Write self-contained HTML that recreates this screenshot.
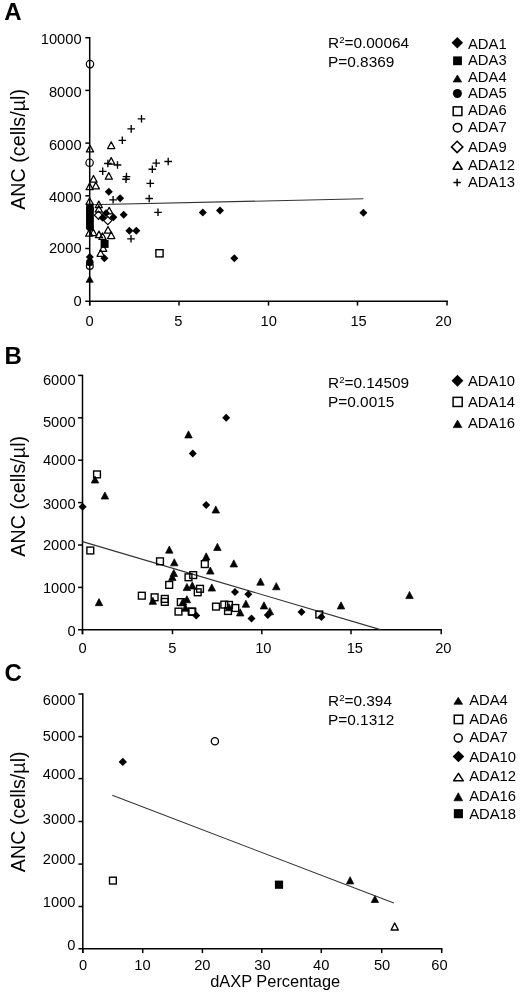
<!DOCTYPE html>
<html><head><meta charset="utf-8"><title>ANC vs dAXP</title>
<style>
html,body{margin:0;padding:0;background:#fff;}
body{width:520px;height:993px;overflow:hidden;}
svg{display:block;filter:grayscale(1);font-family:"Liberation Sans", sans-serif;fill:#000;}
</style></head>
<body>
<svg width="520" height="993" viewBox="0 0 520 993">
<rect width="520" height="993" fill="#fff"/>
<g fill="#000">
<text x="4.2" y="19.8" font-size="24" text-anchor="start" font-weight="bold" >A</text>
<text x="0" y="0" font-size="19.7" text-anchor="middle" transform="translate(24.6 149.4) rotate(-90)">ANC (cells/µl)</text>
<line x1="89.7" y1="36.95" x2="89.7" y2="305.6" stroke="#000" stroke-width="1.5"/>
<line x1="85.3" y1="301.2" x2="447.95" y2="301.2" stroke="#000" stroke-width="1.5"/>
<line x1="85.3" y1="37.7" x2="89.7" y2="37.7" stroke="#000" stroke-width="1.5"/>
<line x1="85.3" y1="90.4" x2="89.7" y2="90.4" stroke="#000" stroke-width="1.5"/>
<line x1="85.3" y1="143.1" x2="89.7" y2="143.1" stroke="#000" stroke-width="1.5"/>
<line x1="85.3" y1="195.8" x2="89.7" y2="195.8" stroke="#000" stroke-width="1.5"/>
<line x1="85.3" y1="248.5" x2="89.7" y2="248.5" stroke="#000" stroke-width="1.5"/>
<line x1="89.7" y1="301.2" x2="89.7" y2="305.6" stroke="#000" stroke-width="1.5"/>
<line x1="179" y1="301.2" x2="179" y2="305.6" stroke="#000" stroke-width="1.5"/>
<line x1="268.5" y1="301.2" x2="268.5" y2="305.6" stroke="#000" stroke-width="1.5"/>
<line x1="357.5" y1="301.2" x2="357.5" y2="305.6" stroke="#000" stroke-width="1.5"/>
<line x1="447" y1="301.2" x2="447" y2="305.6" stroke="#000" stroke-width="1.5"/>
<text x="81.6" y="44.16" font-size="14.7" text-anchor="end" font-weight="normal" >10000</text>
<text x="81.6" y="97.16" font-size="14.7" text-anchor="end" font-weight="normal" >8000</text>
<text x="81.6" y="149.86" font-size="14.7" text-anchor="end" font-weight="normal" >6000</text>
<text x="81.6" y="202.06" font-size="14.7" text-anchor="end" font-weight="normal" >4000</text>
<text x="81.6" y="253.36" font-size="14.7" text-anchor="end" font-weight="normal" >2000</text>
<text x="81.6" y="306.16" font-size="14.7" text-anchor="end" font-weight="normal" >0</text>
<text x="89.6" y="325.86" font-size="14.7" text-anchor="middle" font-weight="normal" >0</text>
<text x="178.4" y="325.86" font-size="14.7" text-anchor="middle" font-weight="normal" >5</text>
<text x="268.7" y="325.86" font-size="14.7" text-anchor="middle" font-weight="normal" >10</text>
<text x="358.6" y="325.86" font-size="14.7" text-anchor="middle" font-weight="normal" >15</text>
<text x="443.5" y="325.86" font-size="14.7" text-anchor="middle" font-weight="normal" >20</text>
<line x1="89.7" y1="204.8" x2="363.4" y2="198.8" stroke="#333" stroke-width="1.1"/>
<rect x="86.2" y="203.8" width="7.4" height="7.4" fill="#000"/>
<rect x="86.2" y="207.3" width="7.4" height="7.4" fill="#000"/>
<rect x="86.2" y="210.8" width="7.4" height="7.4" fill="#000"/>
<rect x="86.2" y="214.3" width="7.4" height="7.4" fill="#000"/>
<rect x="86.2" y="217.8" width="7.4" height="7.4" fill="#000"/>
<rect x="86.2" y="221.3" width="7.4" height="7.4" fill="#000"/>
<circle cx="89.9" cy="227" r="3.9" fill="#000"/>
<circle cx="89.9" cy="209" r="3.9" fill="#000"/>
<path d="M90 145.3L93.6 151.9L86.4 151.9Z" fill="none" stroke="#000" stroke-width="1.25" stroke-linejoin="round"/>
<path d="M111.2 141.9L114.8 148.5L107.6 148.5Z" fill="none" stroke="#000" stroke-width="1.25" stroke-linejoin="round"/>
<path d="M111.2 157.6L114.8 164.2L107.6 164.2Z" fill="none" stroke="#000" stroke-width="1.25" stroke-linejoin="round"/>
<path d="M108.8 172.6L112.4 179.2L105.2 179.2Z" fill="none" stroke="#000" stroke-width="1.25" stroke-linejoin="round"/>
<path d="M93.5 175.5L97.1 182.1L89.9 182.1Z" fill="none" stroke="#000" stroke-width="1.25" stroke-linejoin="round"/>
<path d="M95.8 182.3L99.4 188.9L92.2 188.9Z" fill="none" stroke="#000" stroke-width="1.25" stroke-linejoin="round"/>
<path d="M89.6 183.1L93.2 189.7L86 189.7Z" fill="none" stroke="#000" stroke-width="1.25" stroke-linejoin="round"/>
<path d="M89.6 197.7L93.2 204.3L86 204.3Z" fill="none" stroke="#000" stroke-width="1.25" stroke-linejoin="round"/>
<path d="M98.8 201.1L102.4 207.7L95.2 207.7Z" fill="none" stroke="#000" stroke-width="1.25" stroke-linejoin="round"/>
<path d="M98.8 205.5L102.4 212.1L95.2 212.1Z" fill="none" stroke="#000" stroke-width="1.25" stroke-linejoin="round"/>
<path d="M109.2 207.3L112.8 213.9L105.6 213.9Z" fill="none" stroke="#000" stroke-width="1.25" stroke-linejoin="round"/>
<path d="M108 226.5L111.6 233.1L104.4 233.1Z" fill="none" stroke="#000" stroke-width="1.25" stroke-linejoin="round"/>
<path d="M111.2 231.9L114.8 238.5L107.6 238.5Z" fill="none" stroke="#000" stroke-width="1.25" stroke-linejoin="round"/>
<path d="M89.2 229.6L92.8 236.2L85.6 236.2Z" fill="none" stroke="#000" stroke-width="1.25" stroke-linejoin="round"/>
<path d="M93.3 229.1L96.9 235.7L89.7 235.7Z" fill="none" stroke="#000" stroke-width="1.25" stroke-linejoin="round"/>
<path d="M99 231.1L102.6 237.7L95.4 237.7Z" fill="none" stroke="#000" stroke-width="1.25" stroke-linejoin="round"/>
<path d="M102.5 232.8L106.1 239.4L98.9 239.4Z" fill="none" stroke="#000" stroke-width="1.25" stroke-linejoin="round"/>
<path d="M103.2 244.7L106.8 251.3L99.6 251.3Z" fill="none" stroke="#000" stroke-width="1.25" stroke-linejoin="round"/>
<path d="M100.6 249.7L104.2 256.3L97 256.3Z" fill="none" stroke="#000" stroke-width="1.25" stroke-linejoin="round"/>
<path d="M137.7 118.8H145.3M141.5 115V122.6" stroke="#000" stroke-width="1.35" fill="none"/>
<path d="M127.4 128.9H135M131.2 125.1V132.7" stroke="#000" stroke-width="1.35" fill="none"/>
<path d="M118.5 140.3H126.1M122.3 136.5V144.1" stroke="#000" stroke-width="1.35" fill="none"/>
<path d="M152.4 163.1H160M156.2 159.3V166.9" stroke="#000" stroke-width="1.35" fill="none"/>
<path d="M164.4 161.5H172M168.2 157.7V165.3" stroke="#000" stroke-width="1.35" fill="none"/>
<path d="M148.5 169.2H156.1M152.3 165.4V173" stroke="#000" stroke-width="1.35" fill="none"/>
<path d="M104.1 163.5H111.7M107.9 159.7V167.3" stroke="#000" stroke-width="1.35" fill="none"/>
<path d="M113.7 165H121.3M117.5 161.2V168.8" stroke="#000" stroke-width="1.35" fill="none"/>
<path d="M98.9 171.3H106.5M102.7 167.5V175.1" stroke="#000" stroke-width="1.35" fill="none"/>
<path d="M122.7 176.6H130.3M126.5 172.8V180.4" stroke="#000" stroke-width="1.35" fill="none"/>
<path d="M122.2 179.2H129.8M126 175.4V183" stroke="#000" stroke-width="1.35" fill="none"/>
<path d="M146.5 183.4H154.1M150.3 179.6V187.2" stroke="#000" stroke-width="1.35" fill="none"/>
<path d="M145.4 198.5H153M149.2 194.7V202.3" stroke="#000" stroke-width="1.35" fill="none"/>
<path d="M109.3 199.8H116.9M113.1 196V203.6" stroke="#000" stroke-width="1.35" fill="none"/>
<path d="M154.2 212.3H161.8M158 208.5V216.1" stroke="#000" stroke-width="1.35" fill="none"/>
<path d="M127.2 238.8H134.8M131 235V242.6" stroke="#000" stroke-width="1.35" fill="none"/>
<path d="M98.5 211.1L102.6 215.2L98.5 219.3L94.4 215.2Z" fill="none" stroke="#000" stroke-width="1.2"/>
<path d="M107.8 216.5L111.9 220.6L107.8 224.7L103.7 220.6Z" fill="none" stroke="#000" stroke-width="1.2"/>
<path d="M108.8 187.7L112.8 191.7L108.8 195.7L104.8 191.7Z" fill="#000"/>
<path d="M120.1 194.3L124.1 198.3L120.1 202.3L116.1 198.3Z" fill="#000"/>
<path d="M123.7 210.8L127.7 214.8L123.7 218.8L119.7 214.8Z" fill="#000"/>
<path d="M106 209.3L110 213.3L106 217.3L102 213.3Z" fill="#000"/>
<path d="M102.5 213.8L106.5 217.8L102.5 221.8L98.5 217.8Z" fill="#000"/>
<path d="M113.4 213.3L117.4 217.3L113.4 221.3L109.4 217.3Z" fill="#000"/>
<path d="M129.4 226.8L133.4 230.8L129.4 234.8L125.4 230.8Z" fill="#000"/>
<path d="M136.3 226.8L140.3 230.8L136.3 234.8L132.3 230.8Z" fill="#000"/>
<path d="M104.4 254.2L108.4 258.2L104.4 262.2L100.4 258.2Z" fill="#000"/>
<path d="M202.8 208.5L206.8 212.5L202.8 216.5L198.8 212.5Z" fill="#000"/>
<path d="M220 206.4L224 210.4L220 214.4L216 210.4Z" fill="#000"/>
<path d="M234.3 254.3L238.3 258.3L234.3 262.3L230.3 258.3Z" fill="#000"/>
<path d="M363.4 208.8L367.4 212.8L363.4 216.8L359.4 212.8Z" fill="#000"/>
<path d="M89.8 253L93.8 257L89.8 261L85.8 257Z" fill="#000"/>
<rect x="100.6" y="239.9" width="8" height="8" fill="#000"/>
<circle cx="89.8" cy="262.4" r="3.8" fill="#000"/>
<circle cx="90" cy="64.1" r="3.7" fill="none" stroke="#000" stroke-width="1.2"/>
<circle cx="89.6" cy="162.7" r="3.7" fill="none" stroke="#000" stroke-width="1.2"/>
<circle cx="89.8" cy="266" r="3.4" fill="none" stroke="#000" stroke-width="1.2"/>
<path d="M89.7 275.89L93.28 282.31L86.12 282.31Z" fill="#000" stroke="#000" stroke-width="0.7" stroke-linejoin="round"/>
<rect x="155.9" y="249.7" width="7.2" height="7.2" fill="none" stroke="#000" stroke-width="1.4"/>
<text x="328.0" y="47.9" font-size="15.4">R<tspan font-size="9.6" dy="-4.6">2</tspan><tspan dy="4.6">=0.00064</tspan></text>
<text x="328" y="66.9" font-size="15.4" text-anchor="start" font-weight="normal" >P=0.8369</text>
<path d="M457.3 37.05L463.05 42.8L457.3 48.55L451.55 42.8Z" fill="#000"/>
<text x="468" y="48.5" font-size="14.8" text-anchor="start" font-weight="normal" >ADA1</text>
<rect x="453.1" y="56.4" width="8.8" height="8.8" fill="#000"/>
<text x="468" y="65" font-size="14.8" text-anchor="start" font-weight="normal" >ADA3</text>
<path d="M457.4 74.94L461.63 81.97L453.17 81.97Z" fill="#000" stroke="#000" stroke-width="0.7" stroke-linejoin="round"/>
<text x="468" y="82.3" font-size="14.8" text-anchor="start" font-weight="normal" >ADA4</text>
<circle cx="457.4" cy="93.45" r="4.5" fill="#000"/>
<text x="468" y="98.3" font-size="14.8" text-anchor="start" font-weight="normal" >ADA5</text>
<rect x="453.2" y="106.85" width="8.7" height="8.7" fill="none" stroke="#000" stroke-width="1.5"/>
<text x="468" y="114.9" font-size="14.8" text-anchor="start" font-weight="normal" >ADA6</text>
<circle cx="457.55" cy="127.65" r="4.25" fill="none" stroke="#000" stroke-width="1.5"/>
<text x="468" y="131.9" font-size="14.8" text-anchor="start" font-weight="normal" >ADA7</text>
<path d="M457.15 141.2L462.85 146.9L457.15 152.6L451.45 146.9Z" fill="none" stroke="#000" stroke-width="1.5"/>
<text x="468" y="151.5" font-size="14.8" text-anchor="start" font-weight="normal" >ADA9</text>
<path d="M457.65 161.55L462.2 169.25L453.1 169.25Z" fill="none" stroke="#000" stroke-width="1.5" stroke-linejoin="round"/>
<text x="468" y="170" font-size="14.8" text-anchor="start" font-weight="normal" >ADA12</text>
<path d="M453.45 182.5H460.85M457.15 178.8V186.2" stroke="#000" stroke-width="1.45" fill="none"/>
<text x="468" y="187" font-size="14.8" text-anchor="start" font-weight="normal" >ADA13</text>
<text x="4.6" y="363.6" font-size="24" text-anchor="start" font-weight="bold" >B</text>
<text x="0" y="0" font-size="19.7" text-anchor="middle" transform="translate(24.6 496.3) rotate(-90)">ANC (cells/µl)</text>
<line x1="82.5" y1="374.65" x2="82.5" y2="634.2" stroke="#000" stroke-width="1.5"/>
<line x1="78.1" y1="629.8" x2="441.95" y2="629.8" stroke="#000" stroke-width="1.5"/>
<line x1="78.1" y1="375.4" x2="82.5" y2="375.4" stroke="#000" stroke-width="1.5"/>
<line x1="78.1" y1="417.8" x2="82.5" y2="417.8" stroke="#000" stroke-width="1.5"/>
<line x1="78.1" y1="460.2" x2="82.5" y2="460.2" stroke="#000" stroke-width="1.5"/>
<line x1="78.1" y1="502.6" x2="82.5" y2="502.6" stroke="#000" stroke-width="1.5"/>
<line x1="78.1" y1="545" x2="82.5" y2="545" stroke="#000" stroke-width="1.5"/>
<line x1="78.1" y1="587.4" x2="82.5" y2="587.4" stroke="#000" stroke-width="1.5"/>
<line x1="82.5" y1="629.8" x2="82.5" y2="634.2" stroke="#000" stroke-width="1.5"/>
<line x1="172.5" y1="629.8" x2="172.5" y2="634.2" stroke="#000" stroke-width="1.5"/>
<line x1="261.8" y1="629.8" x2="261.8" y2="634.2" stroke="#000" stroke-width="1.5"/>
<line x1="351" y1="629.8" x2="351" y2="634.2" stroke="#000" stroke-width="1.5"/>
<line x1="441.2" y1="629.8" x2="441.2" y2="634.2" stroke="#000" stroke-width="1.5"/>
<text x="75.6" y="384.66" font-size="14.7" text-anchor="end" font-weight="normal" >6000</text>
<text x="75.6" y="427.06" font-size="14.7" text-anchor="end" font-weight="normal" >5000</text>
<text x="75.6" y="464.96" font-size="14.7" text-anchor="end" font-weight="normal" >4000</text>
<text x="75.6" y="509.26" font-size="14.7" text-anchor="end" font-weight="normal" >3000</text>
<text x="75.6" y="550.46" font-size="14.7" text-anchor="end" font-weight="normal" >2000</text>
<text x="75.6" y="592.86" font-size="14.7" text-anchor="end" font-weight="normal" >1000</text>
<text x="75.6" y="635.56" font-size="14.7" text-anchor="end" font-weight="normal" >0</text>
<text x="82.5" y="653.26" font-size="14.7" text-anchor="middle" font-weight="normal" >0</text>
<text x="172.3" y="653.26" font-size="14.7" text-anchor="middle" font-weight="normal" >5</text>
<text x="263.3" y="653.26" font-size="14.7" text-anchor="middle" font-weight="normal" >10</text>
<text x="354.8" y="653.26" font-size="14.7" text-anchor="middle" font-weight="normal" >15</text>
<text x="443.3" y="653.26" font-size="14.7" text-anchor="middle" font-weight="normal" >20</text>
<line x1="82.5" y1="541.6" x2="380.4" y2="629.6" stroke="#333" stroke-width="1.1"/>
<rect x="93.6" y="471" width="6.8" height="6.8" fill="none" stroke="#000" stroke-width="1.4"/>
<rect x="86.9" y="547.1" width="6.8" height="6.8" fill="none" stroke="#000" stroke-width="1.4"/>
<rect x="156.6" y="557.9" width="6.8" height="6.8" fill="none" stroke="#000" stroke-width="1.4"/>
<rect x="138.4" y="592.3" width="6.8" height="6.8" fill="none" stroke="#000" stroke-width="1.4"/>
<rect x="151.2" y="593.9" width="6.8" height="6.8" fill="none" stroke="#000" stroke-width="1.4"/>
<rect x="161.4" y="595.5" width="6.8" height="6.8" fill="none" stroke="#000" stroke-width="1.4"/>
<rect x="161.4" y="598.5" width="6.8" height="6.8" fill="none" stroke="#000" stroke-width="1.4"/>
<rect x="165.8" y="581.5" width="6.8" height="6.8" fill="none" stroke="#000" stroke-width="1.4"/>
<rect x="185.1" y="573.9" width="6.8" height="6.8" fill="none" stroke="#000" stroke-width="1.4"/>
<rect x="189.8" y="571.7" width="6.8" height="6.8" fill="none" stroke="#000" stroke-width="1.4"/>
<rect x="194.3" y="588.9" width="6.8" height="6.8" fill="none" stroke="#000" stroke-width="1.4"/>
<rect x="196.6" y="585.4" width="6.8" height="6.8" fill="none" stroke="#000" stroke-width="1.4"/>
<rect x="201.4" y="560.7" width="6.8" height="6.8" fill="none" stroke="#000" stroke-width="1.4"/>
<rect x="177.4" y="598.7" width="6.8" height="6.8" fill="none" stroke="#000" stroke-width="1.4"/>
<rect x="175.1" y="608.2" width="6.8" height="6.8" fill="none" stroke="#000" stroke-width="1.4"/>
<rect x="188.9" y="608.4" width="6.8" height="6.8" fill="none" stroke="#000" stroke-width="1.4"/>
<rect x="188.3" y="608.1" width="6.8" height="6.8" fill="none" stroke="#000" stroke-width="1.4"/>
<rect x="212.6" y="603.2" width="6.8" height="6.8" fill="none" stroke="#000" stroke-width="1.4"/>
<rect x="220.9" y="601.2" width="6.8" height="6.8" fill="none" stroke="#000" stroke-width="1.4"/>
<rect x="225.6" y="601.5" width="6.8" height="6.8" fill="none" stroke="#000" stroke-width="1.4"/>
<rect x="224.6" y="607.6" width="6.8" height="6.8" fill="none" stroke="#000" stroke-width="1.4"/>
<rect x="231.9" y="604.6" width="6.8" height="6.8" fill="none" stroke="#000" stroke-width="1.4"/>
<rect x="315.9" y="611.1" width="6.8" height="6.8" fill="none" stroke="#000" stroke-width="1.4"/>
<path d="M226.2 413.7L230.2 417.7L226.2 421.7L222.2 417.7Z" fill="#000"/>
<path d="M192.8 449.5L196.8 453.5L192.8 457.5L188.8 453.5Z" fill="#000"/>
<path d="M206.2 501.1L210.2 505.1L206.2 509.1L202.2 505.1Z" fill="#000"/>
<path d="M82.6 502.8L86.6 506.8L82.6 510.8L78.6 506.8Z" fill="#000"/>
<path d="M196.2 611.4L200.2 615.4L196.2 619.4L192.2 615.4Z" fill="#000"/>
<path d="M235 588.1L239 592.1L235 596.1L231 592.1Z" fill="#000"/>
<path d="M248.3 590.2L252.3 594.2L248.3 598.2L244.3 594.2Z" fill="#000"/>
<path d="M251.5 614.4L255.5 618.4L251.5 622.4L247.5 618.4Z" fill="#000"/>
<path d="M267.8 611L271.8 615L267.8 619L263.8 615Z" fill="#000"/>
<path d="M301.5 607.9L305.5 611.9L301.5 615.9L297.5 611.9Z" fill="#000"/>
<path d="M321.4 613L325.4 617L321.4 621L317.4 617Z" fill="#000"/>
<path d="M188.5 430.83L192.23 437.96L184.77 437.96Z" fill="#000" stroke="#000" stroke-width="0.7" stroke-linejoin="round"/>
<path d="M95 475.94L98.73 483.06L91.27 483.06Z" fill="#000" stroke="#000" stroke-width="0.7" stroke-linejoin="round"/>
<path d="M104.9 491.94L108.63 499.06L101.17 499.06Z" fill="#000" stroke="#000" stroke-width="0.7" stroke-linejoin="round"/>
<path d="M215.8 505.94L219.53 513.07L212.07 513.07Z" fill="#000" stroke="#000" stroke-width="0.7" stroke-linejoin="round"/>
<path d="M99 598.53L102.73 605.67L95.27 605.67Z" fill="#000" stroke="#000" stroke-width="0.7" stroke-linejoin="round"/>
<path d="M169.3 546.03L173.03 553.17L165.57 553.17Z" fill="#000" stroke="#000" stroke-width="0.7" stroke-linejoin="round"/>
<path d="M174.3 558.73L178.03 565.87L170.57 565.87Z" fill="#000" stroke="#000" stroke-width="0.7" stroke-linejoin="round"/>
<path d="M173.8 569.43L177.53 576.57L170.07 576.57Z" fill="#000" stroke="#000" stroke-width="0.7" stroke-linejoin="round"/>
<path d="M172.3 573.43L176.03 580.57L168.57 580.57Z" fill="#000" stroke="#000" stroke-width="0.7" stroke-linejoin="round"/>
<path d="M186.9 583.43L190.63 590.57L183.17 590.57Z" fill="#000" stroke="#000" stroke-width="0.7" stroke-linejoin="round"/>
<path d="M192.3 581.83L196.03 588.97L188.57 588.97Z" fill="#000" stroke="#000" stroke-width="0.7" stroke-linejoin="round"/>
<path d="M152.8 597.23L156.53 604.37L149.07 604.37Z" fill="#000" stroke="#000" stroke-width="0.7" stroke-linejoin="round"/>
<path d="M183 597.93L186.73 605.07L179.27 605.07Z" fill="#000" stroke="#000" stroke-width="0.7" stroke-linejoin="round"/>
<path d="M186.9 595.63L190.63 602.77L183.17 602.77Z" fill="#000" stroke="#000" stroke-width="0.7" stroke-linejoin="round"/>
<path d="M185.4 604.13L189.13 611.27L181.67 611.27Z" fill="#000" stroke="#000" stroke-width="0.7" stroke-linejoin="round"/>
<path d="M217.4 543.33L221.13 550.47L213.67 550.47Z" fill="#000" stroke="#000" stroke-width="0.7" stroke-linejoin="round"/>
<path d="M206.2 552.83L209.93 559.97L202.47 559.97Z" fill="#000" stroke="#000" stroke-width="0.7" stroke-linejoin="round"/>
<path d="M210.3 566.93L214.03 574.07L206.57 574.07Z" fill="#000" stroke="#000" stroke-width="0.7" stroke-linejoin="round"/>
<path d="M233.8 559.83L237.53 566.97L230.07 566.97Z" fill="#000" stroke="#000" stroke-width="0.7" stroke-linejoin="round"/>
<path d="M211.8 583.93L215.53 591.07L208.07 591.07Z" fill="#000" stroke="#000" stroke-width="0.7" stroke-linejoin="round"/>
<path d="M260.5 578.03L264.23 585.17L256.77 585.17Z" fill="#000" stroke="#000" stroke-width="0.7" stroke-linejoin="round"/>
<path d="M276.3 582.63L280.03 589.77L272.57 589.77Z" fill="#000" stroke="#000" stroke-width="0.7" stroke-linejoin="round"/>
<path d="M229 603.63L232.73 610.77L225.27 610.77Z" fill="#000" stroke="#000" stroke-width="0.7" stroke-linejoin="round"/>
<path d="M245.9 600.13L249.63 607.27L242.17 607.27Z" fill="#000" stroke="#000" stroke-width="0.7" stroke-linejoin="round"/>
<path d="M240.2 608.83L243.93 615.97L236.47 615.97Z" fill="#000" stroke="#000" stroke-width="0.7" stroke-linejoin="round"/>
<path d="M264 601.83L267.73 608.97L260.27 608.97Z" fill="#000" stroke="#000" stroke-width="0.7" stroke-linejoin="round"/>
<path d="M269.8 607.63L273.53 614.77L266.07 614.77Z" fill="#000" stroke="#000" stroke-width="0.7" stroke-linejoin="round"/>
<path d="M341 601.83L344.73 608.97L337.27 608.97Z" fill="#000" stroke="#000" stroke-width="0.7" stroke-linejoin="round"/>
<path d="M409.5 591.43L413.23 598.57L405.77 598.57Z" fill="#000" stroke="#000" stroke-width="0.7" stroke-linejoin="round"/>
<text x="328.0" y="387.7" font-size="15.4">R<tspan font-size="9.6" dy="-4.6">2</tspan><tspan dy="4.6">=0.14509</tspan></text>
<text x="328" y="407" font-size="15.4" text-anchor="start" font-weight="normal" >P=0.0015</text>
<path d="M457.45 374.85L463.35 380.75L457.45 386.65L451.55 380.75Z" fill="#000"/>
<text x="468" y="386" font-size="14.8" text-anchor="start" font-weight="normal" >ADA10</text>
<rect x="453.1" y="397.35" width="9.1" height="9.1" fill="none" stroke="#000" stroke-width="1.5"/>
<text x="468" y="407.3" font-size="14.8" text-anchor="start" font-weight="normal" >ADA14</text>
<path d="M457.55 419.99L461.88 427.62L453.22 427.62Z" fill="#000" stroke="#000" stroke-width="0.7" stroke-linejoin="round"/>
<text x="468" y="428" font-size="14.8" text-anchor="start" font-weight="normal" >ADA16</text>
<text x="4.4" y="680.6" font-size="24" text-anchor="start" font-weight="bold" >C</text>
<text x="0" y="0" font-size="19.7" text-anchor="middle" transform="translate(24.6 811.8) rotate(-90)">ANC (cells/µl)</text>
<line x1="82.8" y1="693.25" x2="82.8" y2="953.1" stroke="#000" stroke-width="1.5"/>
<line x1="78.4" y1="948.7" x2="442.45" y2="948.7" stroke="#000" stroke-width="1.5"/>
<line x1="78.4" y1="694" x2="82.8" y2="694" stroke="#000" stroke-width="1.5"/>
<line x1="78.4" y1="736.6" x2="82.8" y2="736.6" stroke="#000" stroke-width="1.5"/>
<line x1="78.4" y1="778.6" x2="82.8" y2="778.6" stroke="#000" stroke-width="1.5"/>
<line x1="78.4" y1="821.5" x2="82.8" y2="821.5" stroke="#000" stroke-width="1.5"/>
<line x1="78.4" y1="864.1" x2="82.8" y2="864.1" stroke="#000" stroke-width="1.5"/>
<line x1="78.4" y1="906.5" x2="82.8" y2="906.5" stroke="#000" stroke-width="1.5"/>
<line x1="82.8" y1="948.7" x2="82.8" y2="953.1" stroke="#000" stroke-width="1.5"/>
<line x1="142.7" y1="948.7" x2="142.7" y2="953.1" stroke="#000" stroke-width="1.5"/>
<line x1="202.4" y1="948.7" x2="202.4" y2="953.1" stroke="#000" stroke-width="1.5"/>
<line x1="261.8" y1="948.7" x2="261.8" y2="953.1" stroke="#000" stroke-width="1.5"/>
<line x1="321.3" y1="948.7" x2="321.3" y2="953.1" stroke="#000" stroke-width="1.5"/>
<line x1="381.7" y1="948.7" x2="381.7" y2="953.1" stroke="#000" stroke-width="1.5"/>
<line x1="441.7" y1="948.7" x2="441.7" y2="953.1" stroke="#000" stroke-width="1.5"/>
<text x="75.5" y="704.56" font-size="14.7" text-anchor="end" font-weight="normal" >6000</text>
<text x="75.5" y="741.06" font-size="14.7" text-anchor="end" font-weight="normal" >5000</text>
<text x="75.5" y="778.96" font-size="14.7" text-anchor="end" font-weight="normal" >4000</text>
<text x="75.5" y="823.66" font-size="14.7" text-anchor="end" font-weight="normal" >3000</text>
<text x="75.5" y="864.06" font-size="14.7" text-anchor="end" font-weight="normal" >2000</text>
<text x="75.5" y="906.76" font-size="14.7" text-anchor="end" font-weight="normal" >1000</text>
<text x="75.5" y="949.76" font-size="14.7" text-anchor="end" font-weight="normal" >0</text>
<text x="83" y="969.56" font-size="14.7" text-anchor="middle" font-weight="normal" >0</text>
<text x="142.5" y="969.56" font-size="14.7" text-anchor="middle" font-weight="normal" >10</text>
<text x="202.3" y="969.56" font-size="14.7" text-anchor="middle" font-weight="normal" >20</text>
<text x="262.5" y="969.56" font-size="14.7" text-anchor="middle" font-weight="normal" >30</text>
<text x="321.2" y="969.56" font-size="14.7" text-anchor="middle" font-weight="normal" >40</text>
<text x="382.1" y="969.56" font-size="14.7" text-anchor="middle" font-weight="normal" >50</text>
<text x="439.4" y="969.56" font-size="14.7" text-anchor="middle" font-weight="normal" >60</text>
<text x="275.2" y="986.7" font-size="16.4" text-anchor="middle" font-weight="normal" >dAXP Percentage</text>
<line x1="112.3" y1="795.2" x2="393.8" y2="903.1" stroke="#333" stroke-width="1.1"/>
<path d="M122.8 757.7L127 761.9L122.8 766.1L118.6 761.9Z" fill="#000"/>
<circle cx="214.9" cy="741.3" r="3.6" fill="none" stroke="#000" stroke-width="1.3"/>
<rect x="109.5" y="877.2" width="6.8" height="6.8" fill="none" stroke="#000" stroke-width="1.4"/>
<rect x="274.9" y="880.6" width="8.2" height="8.2" fill="#000"/>
<path d="M350.1 876.68L353.78 883.91L346.42 883.91Z" fill="#000" stroke="#000" stroke-width="0.7" stroke-linejoin="round"/>
<path d="M374.9 895.69L378.58 902.51L371.22 902.51Z" fill="#000" stroke="#000" stroke-width="0.7" stroke-linejoin="round"/>
<path d="M394.7 923L398.3 930L391.1 930Z" fill="none" stroke="#000" stroke-width="1.4" stroke-linejoin="round"/>
<text x="328.0" y="705.8" font-size="15.4">R<tspan font-size="9.6" dy="-4.6">2</tspan><tspan dy="4.6">=0.394</tspan></text>
<text x="328" y="725.2" font-size="15.4" text-anchor="start" font-weight="normal" >P=0.1312</text>
<path d="M458.25 697.33L462.58 704.26L453.92 704.26Z" fill="#000" stroke="#000" stroke-width="0.7" stroke-linejoin="round"/>
<text x="469.2" y="704.9" font-size="14.8" text-anchor="start" font-weight="normal" >ADA4</text>
<rect x="454.25" y="715.2" width="8.4" height="8.4" fill="none" stroke="#000" stroke-width="1.5"/>
<text x="469.2" y="723.6" font-size="14.8" text-anchor="start" font-weight="normal" >ADA6</text>
<circle cx="458.25" cy="738.05" r="4" fill="none" stroke="#000" stroke-width="1.5"/>
<text x="469.2" y="742.2" font-size="14.8" text-anchor="start" font-weight="normal" >ADA7</text>
<path d="M458.45 750.75L464.25 756.55L458.45 762.35L452.65 756.55Z" fill="#000"/>
<text x="469.2" y="761.5" font-size="14.8" text-anchor="start" font-weight="normal" >ADA10</text>
<path d="M458.45 773.3L463.35 780.8L453.55 780.8Z" fill="none" stroke="#000" stroke-width="1.5" stroke-linejoin="round"/>
<text x="469.2" y="781.2" font-size="14.8" text-anchor="start" font-weight="normal" >ADA12</text>
<path d="M458.25 792.74L462.58 800.76L453.92 800.76Z" fill="#000" stroke="#000" stroke-width="0.7" stroke-linejoin="round"/>
<text x="469.2" y="801.2" font-size="14.8" text-anchor="start" font-weight="normal" >ADA16</text>
<rect x="453.85" y="809.15" width="9.1" height="9.1" fill="#000"/>
<text x="469.2" y="818.5" font-size="14.8" text-anchor="start" font-weight="normal" >ADA18</text>
</g>
</svg>
</body></html>
